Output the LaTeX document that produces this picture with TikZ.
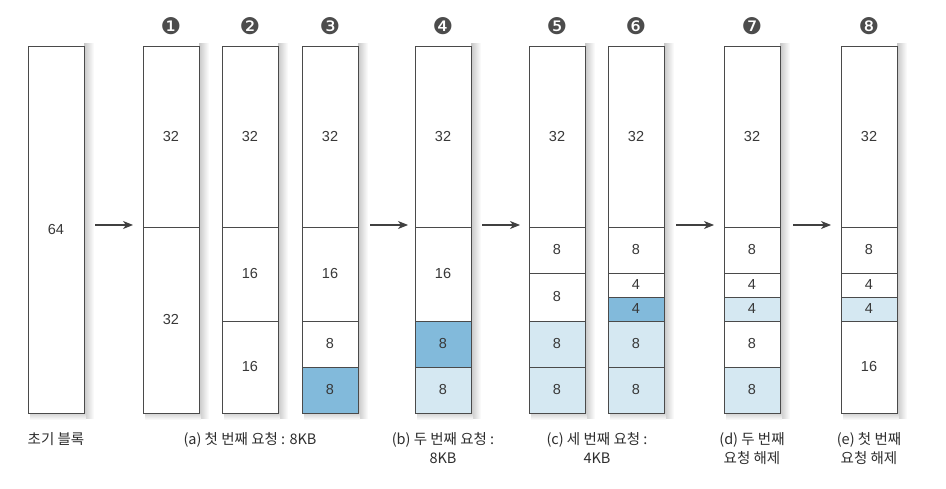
\documentclass[tikz,border=0pt]{standalone}
\usepackage{fontspec}
\setmainfont{Noto Sans CJK KR}
\newfontfamily\circfont{DejaVu Sans}
\newfontfamily\numfont{Liberation Sans}
\usetikzlibrary{arrows.meta}
\definecolor{dkblue}{HTML}{82BADB}
\definecolor{ltblue}{HTML}{D5E8F2}
\definecolor{edge}{HTML}{4A4A4A}
\tikzset{
  blk/.style={draw=edge, line width=0.9pt, minimum width=56pt, inner sep=0pt, outer sep=0pt, font=\numfont\fontsize{14.5}{16}\selectfont, text=black!78},
  arr/.style={draw=black!75, line width=1.1pt, -{Stealth[length=10pt,width=8pt,inset=3pt]}},
  circnum/.style={font=\circfont\fontsize{23}{24}\selectfont, text=black!70, inner sep=0pt},
  captxt/.style={font=\fontsize{14.5}{19}\selectfont, align=center, text=black!82},
}
% name, xcenter, ytop, ybottom, fill, label
\newcommand\blkseg[6]{\node[blk, fill=#5, minimum height={(#4-#3)*1pt}] (#1) at (#2,{(#3+#4)/2}) {#6};}
\newcommand\colshadow[1]{%
  \shade[left color=black!22, right color=white] (#1+28,44) rectangle (#1+38,418);
  \shade[top color=black!18, bottom color=white] (#1-26,413) rectangle (#1+30,420);}
\begin{document}
\begin{tikzpicture}[x=1pt,y=-1pt]
\fill[white] (0,0) rectangle (946,489);
\useasboundingbox (0,0) rectangle (946,489);
% shadows
\foreach \cx in {56,171,250,330,443,557,636,752,869} {\colshadow{\cx}}
% initial
\blkseg{ini}{56}{46}{413}{white}{64}
% column 1
\blkseg{c1a}{171}{46}{227}{white}{32}
\blkseg{c1b}{171}{227}{413}{white}{32}
% column 2
\blkseg{c2a}{250}{46}{227}{white}{32}
\blkseg{c2b}{250}{227}{321}{white}{16}
\blkseg{c2c}{250}{321}{413}{white}{16}
% column 3
\blkseg{c3a}{330}{46}{227}{white}{32}
\blkseg{c3b}{330}{227}{321}{white}{16}
\blkseg{c3c}{330}{321}{367}{white}{8}
\blkseg{c3d}{330}{367}{413}{dkblue}{8}
% column 4
\blkseg{c4a}{443}{46}{227}{white}{32}
\blkseg{c4b}{443}{227}{321}{white}{16}
\blkseg{c4c}{443}{321}{367}{dkblue}{8}
\blkseg{c4d}{443}{367}{413}{ltblue}{8}
% column 5
\blkseg{c5a}{557}{46}{227}{white}{32}
\blkseg{c5b}{557}{227}{273}{white}{8}
\blkseg{c5c}{557}{273}{321}{white}{8}
\blkseg{c5d}{557}{321}{367}{ltblue}{8}
\blkseg{c5e}{557}{367}{413}{ltblue}{8}
% column 6
\blkseg{c6a}{636}{46}{227}{white}{32}
\blkseg{c6b}{636}{227}{273}{white}{8}
\blkseg{c6c}{636}{273}{297}{white}{4}
\blkseg{c6d}{636}{297}{321}{dkblue}{4}
\blkseg{c6e}{636}{321}{367}{ltblue}{8}
\blkseg{c6f}{636}{367}{413}{ltblue}{8}
% column 7
\blkseg{c7a}{752}{46}{227}{white}{32}
\blkseg{c7b}{752}{227}{273}{white}{8}
\blkseg{c7c}{752}{273}{297}{white}{4}
\blkseg{c7d}{752}{297}{321}{ltblue}{4}
\blkseg{c7e}{752}{321}{367}{white}{8}
\blkseg{c7f}{752}{367}{413}{ltblue}{8}
% column 8
\blkseg{c8a}{869}{46}{227}{white}{32}
\blkseg{c8b}{869}{227}{273}{white}{8}
\blkseg{c8c}{869}{273}{297}{white}{4}
\blkseg{c8d}{869}{297}{321}{ltblue}{4}
\blkseg{c8e}{869}{321}{413}{white}{16}
% circled numbers
\node[circnum] (n1) at (171,26) {❶};
\node[circnum] (n2) at (250,26) {❷};
\node[circnum] (n3) at (330,26) {❸};
\node[circnum] (n4) at (443,26) {❹};
\node[circnum] (n5) at (557,26) {❺};
\node[circnum] (n6) at (636,26) {❻};
\node[circnum] (n7) at (752,26) {❼};
\node[circnum] (n8) at (869,26) {❽};
% arrows
\coordinate (s1) at (95,225);  \coordinate (e1) at (133,225);
\coordinate (s2) at (370,225); \coordinate (e2) at (408,225);
\coordinate (s3) at (482,225); \coordinate (e3) at (520,225);
\coordinate (s4) at (676,225); \coordinate (e4) at (714,225);
\coordinate (s5) at (793,225); \coordinate (e5) at (831,225);
\draw[arr] (s1) -- (e1);
\draw[arr] (s2) -- (e2);
\draw[arr] (s3) -- (e3);
\draw[arr] (s4) -- (e4);
\draw[arr] (s5) -- (e5);
% captions
\node[captxt, anchor=north] (l0) at (56,429) {초기 블록};
\node[captxt, anchor=north] (l1) at (250,429) {(a) 첫 번째 요청 : 8KB};
\node[captxt, anchor=north] (l2) at (443,429) {(b) 두 번째 요청 :\\8KB};
\node[captxt, anchor=north] (l3) at (597,429) {(c) 세 번째 요청 :\\4KB};
\node[captxt, anchor=north] (l4) at (752,429) {(d) 두 번째\\요청 해제};
\node[captxt, anchor=north] (l5) at (869,429) {(e) 첫 번째\\요청 해제};
\end{tikzpicture}
\end{document}
